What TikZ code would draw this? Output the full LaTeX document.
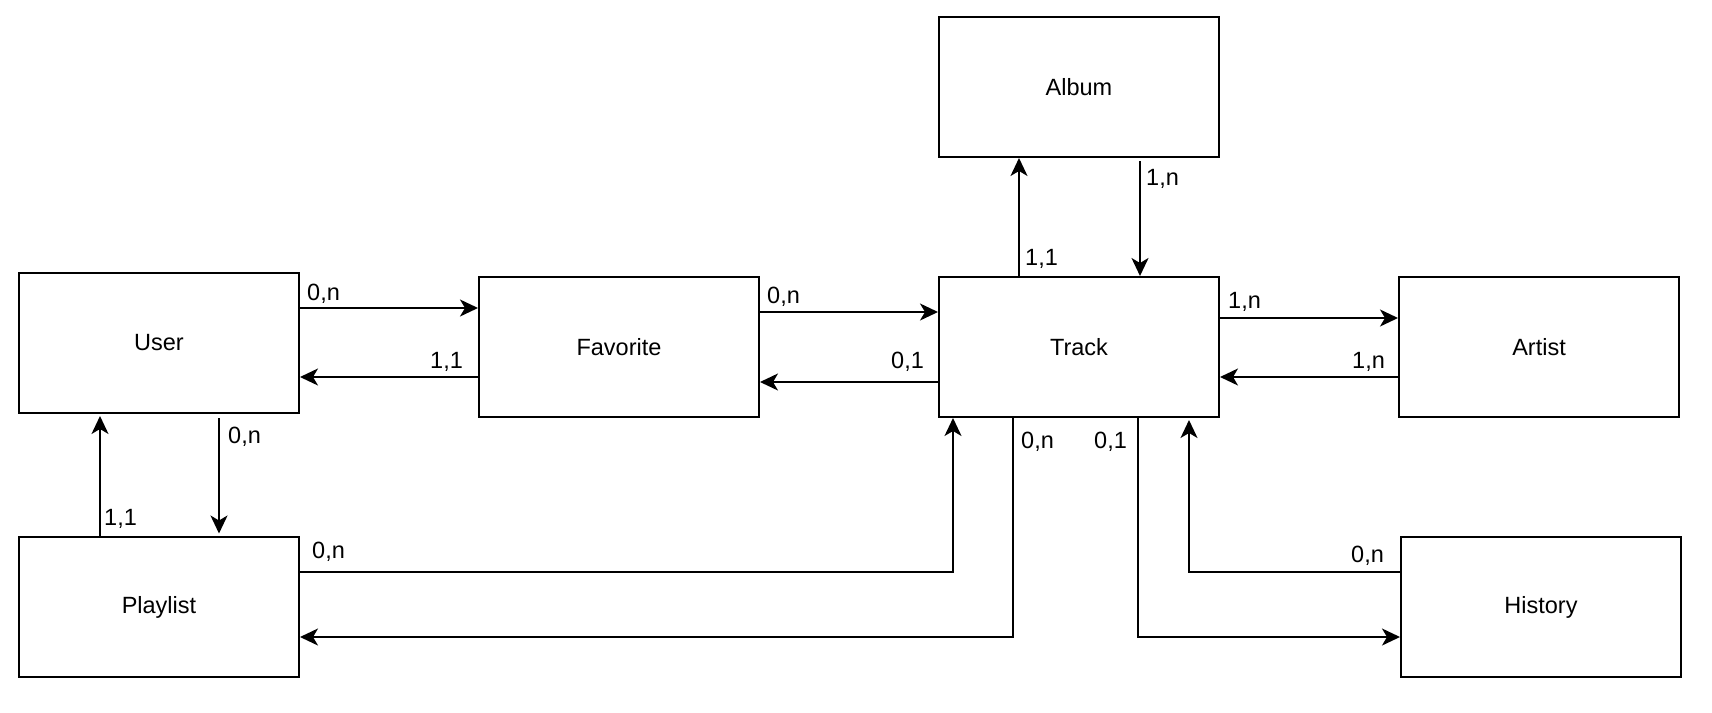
\documentclass[tikz,border=0pt]{standalone}
\usepackage{fontspec}
\setmainfont{Liberation Sans}
\usetikzlibrary{arrows.meta}
\begin{document}
\begin{tikzpicture}[x=1pt,y=-1pt,
  box/.style={draw, line width=2pt, minimum width=280pt, minimum height=140pt, inner sep=0pt, font=\fontsize{23.5}{28}\selectfont},
  lab/.style={anchor=base west, inner sep=0pt, font=\fontsize{23.5}{28}\selectfont},
  conn/.style={line width=1.8pt, -{Stealth[length=18pt,width=17pt,inset=5pt]}}]
\useasboundingbox (0,0) rectangle (1712,712);
% entities
\node[box] (user)     at (159,343) {User};
\node[box] (playlist) at (159,607) {Playlist};
\node[box] (favorite) at (619,347) {Favorite};
\node[box] (track)    at (1079,347) {Track};
\node[box] (album)    at (1079,87) {Album};
\node[box] (artist)   at (1539,347) {Artist};
\node[box] (history)  at (1541,607) {History};
% levels
\coordinate (yUF) at (0,308);
\coordinate (yFU) at (0,377);
\coordinate (yFT) at (0,312);
\coordinate (yTF) at (0,382);
\coordinate (yTA) at (0,318);
\coordinate (yAT) at (0,377);
\coordinate (yPT) at (0,572);
\coordinate (yTP) at (0,637);
\coordinate (yTH) at (0,637);
\coordinate (yHT) at (0,572);
\coordinate (xTAl) at (1019,0);
\coordinate (xATr) at (1140,0);
\coordinate (xPU) at (100,0);
\coordinate (xUP) at (219,0);
\coordinate (xPTv) at (953,0);
\coordinate (xTPv) at (1013,0);
\coordinate (xTHv) at (1138,0);
\coordinate (xHTv) at (1189,0);
% connectors
\draw[conn] (user.east |- yUF) -- (favorite.west |- yUF);
\draw[conn] (favorite.west |- yFU) -- (user.east |- yFU);
\draw[conn] (favorite.east |- yFT) -- (track.west |- yFT);
\draw[conn] (track.west |- yTF) -- (favorite.east |- yTF);
\draw[conn] (track.north -| xTAl) -- (album.south -| xTAl);
\draw[conn] ([yshift=-3pt]album.south -| xATr) -- (track.north -| xATr);
\draw[conn] (track.east |- yTA) -- (artist.west |- yTA);
\draw[conn] (artist.west |- yAT) -- (track.east |- yAT);
\draw[conn] (playlist.north -| xPU) -- ([yshift=-2pt]user.south -| xPU);
\draw[conn] ([yshift=-4pt]user.south -| xUP) -- ([yshift=2.5pt]playlist.north -| xUP);
\draw[conn] (playlist.east |- yPT) -| (track.south -| xPTv);
\draw[conn] (track.south -| xTPv) |- (playlist.east |- yTP);
\draw[conn] (track.south -| xTHv) |- (history.west |- yTH);
\draw[conn] (history.west |- yHT) -| ([yshift=-2pt]track.south -| xHTv);
% cardinalities
\node[lab] (l1)  at (307,300) {0,n};
\node[lab] (l2)  at (430,368) {1,1};
\node[lab] (l3)  at (767,303) {0,n};
\node[lab] (l4)  at (891,368) {0,1};
\node[lab] (l5)  at (1025,265) {1,1};
\node[lab] (l6)  at (1146,185) {1,n};
\node[lab] (l7)  at (1228,308) {1,n};
\node[lab] (l8)  at (1352,368) {1,n};
\node[lab] (l9)  at (228,443) {0,n};
\node[lab] (l10) at (104,525) {1,1};
\node[lab] (l11) at (312,558) {0,n};
\node[lab] (l12) at (1021,448) {0,n};
\node[lab] (l13) at (1094,448) {0,1};
\node[lab] (l14) at (1351,562) {0,n};
\end{tikzpicture}
\end{document}
